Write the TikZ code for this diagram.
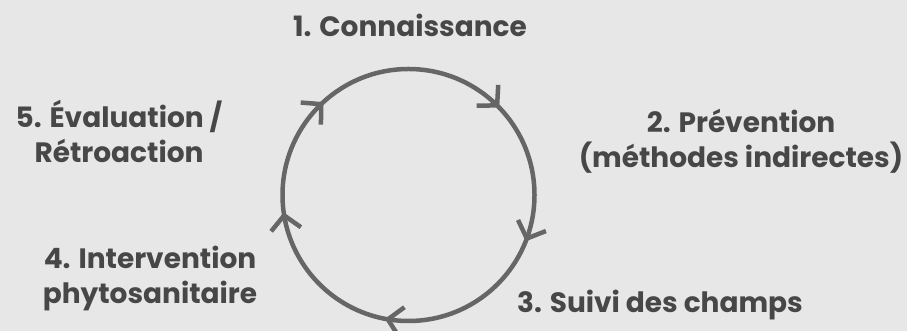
\documentclass[tikz,border=0pt]{standalone}
\usepackage{fontspec}
\setmainfont{Poppins}
\usetikzlibrary{arrows.meta,decorations.markings}
\definecolor{bgc}{HTML}{E7E7E7}
\definecolor{ringc}{HTML}{666666}
\definecolor{txtc}{HTML}{474747}
\tikzset{
  barb/.style={ringc,line width=4.5pt},
  barbtip/.tip={Straight Barb[length=14pt,width=30pt]}}
\begin{document}
\begin{tikzpicture}[x=1pt,y=1pt,
  label/.style={text=txtc,font=\fontsize{28}{35}\selectfont\bfseries,align=center,inner sep=0pt},
  ring/.style={draw=ringc,line width=4.5pt,
    decoration={markings,
      mark=at position 0.060 with {\arrow[barb]{barbtip}},
      mark=at position 0.280 with {\arrow[barb]{barbtip}},
      mark=at position 0.478 with {\arrow[barb]{barbtip}},
      mark=at position 0.632 with {\arrow[barb]{barbtip}},
      mark=at position 0.878 with {\arrow[barb]{barbtip}}},
    postaction={decorate}}]
\fill[bgc] (0,0) rectangle (907,331);
\useasboundingbox (0,0) rectangle (907,331);
\coordinate (c) at (408.5,136);
\draw[ring] (c) ++(0:126) arc[start angle=360,end angle=0,radius=126];
\node[label] (n1) at (410,306) {1. Connaissance};
\node[label] (n2) at (741,190) {2. Prévention\\(méthodes indirectes)};
\node[label] (n3) at (660,26) {3. Suivi des champs};
\node[label] (n4) at (150,52) {4. Intervention\\phytosanitaire};
\node[label] (n5) at (119,200) {5. Évaluation /\\Rétroaction};
\end{tikzpicture}
\end{document}
